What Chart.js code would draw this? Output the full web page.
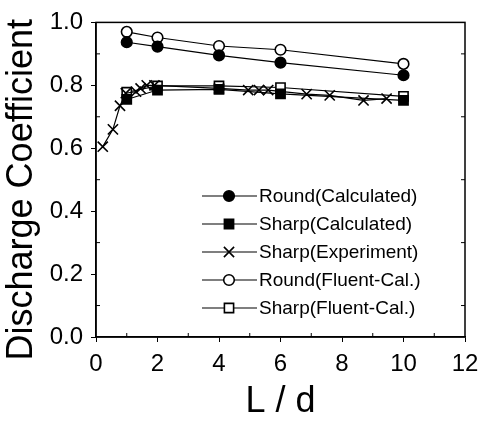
<!DOCTYPE html>
<html>
<head>
<meta charset="utf-8">
<script src="https://cdn.jsdelivr.net/npm/chart.js@4.4.1/dist/chart.umd.min.js"></script>
<style>
  html, body { margin: 0; padding: 0; background: #fff; }
  #wrap { width: 488px; height: 424px; }
</style>
</head>
<body>
<div id="wrap"><canvas id="chart" width="488" height="424"></canvas></div>
<script>
// data
const ldCalc = [1, 2, 4, 6, 10]
const roundCalc = [0.937, 0.923, 0.895, 0.872, 0.832]
const sharpCalc = [0.755, 0.785, 0.787, 0.773, 0.752]
const roundFluent = [0.970, 0.952, 0.925, 0.913, 0.868]
const sharpFluent = [0.778, 0.798, 0.798, 0.793, 0.765]

const ldExp = [0.22, 0.55, 0.78, 0.97, 1.3, 1.45, 1.65, 1.9, 4.0, 4.95, 5.3, 5.6, 6.85, 7.6, 8.7, 9.45]
const sharpExp = [0.605, 0.66, 0.735, 0.775, 0.78, 0.79, 0.80, 0.80, 0.79, 0.785, 0.785, 0.785, 0.772, 0.768, 0.752, 0.758]

const xTicks = [0, 2, 4, 6, 8, 10, 12]
const yTicks = [0.0, 0.2, 0.4, 0.6, 0.8, 1.0]

const seriesLabels = ['Round(Calculated)', 'Sharp(Calculated)', 'Sharp(Experiment)', 'Round(Fluent-Cal.)', 'Sharp(Fluent-Cal.)']

const FONT = "'Liberation Sans', Arial, sans-serif"

function pts(xs, ys) {
    return xs.map((x, i) => ({ x: x, y: ys[i] }))
}

function series(label, data, style, radius, filled) {
    return {
        label: label,
        data: data,
        borderColor: '#000',
        borderWidth: 1.2,
        pointStyle: style,
        pointRadius: radius,
        pointHoverRadius: radius,
        pointBackgroundColor: filled ? '#000' : '#fff',
        pointBorderColor: '#000',
        pointBorderWidth: style === 'crossRot' ? 1.6 : 1.6,
        fill: false,
        tension: 0
    }
}

const datasets = [
    series(seriesLabels[0], pts(ldCalc, roundCalc), 'circle', 5.3, true),
    series(seriesLabels[1], pts(ldCalc, sharpCalc), 'rect', 6.5, true),
    series(seriesLabels[2], pts(ldExp, sharpExp), 'crossRot', 7.2, false),
    series(seriesLabels[3], pts(ldCalc, roundFluent), 'circle', 5.3, false),
    series(seriesLabels[4], pts(ldCalc, sharpFluent), 'rect', 6.5, false)
]

// draw one marker (legend)
function marker(ctx, ds, x, y) {
    const r = ds.pointRadius
    ctx.save()
    ctx.lineWidth = ds.pointBorderWidth
    ctx.strokeStyle = '#000'
    ctx.fillStyle = ds.pointBackgroundColor
    ctx.beginPath()
    if (ds.pointStyle === 'circle') {
        ctx.arc(x, y, r, 0, Math.PI * 2)
        ctx.fill()
        ctx.stroke()
    } else if (ds.pointStyle === 'rect') {
        const s = Math.SQRT1_2 * r
        ctx.rect(x - s, y - s, 2 * s, 2 * s)
        ctx.fill()
        ctx.stroke()
    } else {
        const s = Math.SQRT1_2 * r
        ctx.moveTo(x - s, y - s); ctx.lineTo(x + s, y + s)
        ctx.moveTo(x - s, y + s); ctx.lineTo(x + s, y - s)
        ctx.stroke()
    }
    ctx.restore()
}

// frame, inward minor ticks, legend
const decor = {
    id: 'decor',
    afterDatasetsDraw(chart) {
        const { ctx, chartArea: { top, right, bottom, left } } = chart
        const xs = chart.scales.x, ys = chart.scales.y
        ctx.save()
        ctx.strokeStyle = '#000'
        ctx.lineWidth = 1.5
        ctx.strokeRect(left, top, right - left, bottom - top)
        ctx.lineWidth = 1
        ctx.beginPath()
        for (let v = 1; v < 12; v += 2) {
            const px = xs.getPixelForValue(v)
            ctx.moveTo(px, bottom); ctx.lineTo(px, bottom - 4)
        }
        for (let v = 0.1; v < 1; v += 0.2) {
            const py = ys.getPixelForValue(v)
            ctx.moveTo(left, py); ctx.lineTo(left + 4, py)
            ctx.moveTo(right, py); ctx.lineTo(right - 4, py)
        }
        ctx.stroke()

        // legend
        const lx = 202, ly = 196, step = 28
        chart.data.datasets.forEach((ds, i) => {
            const y = ly + i * step
            ctx.lineWidth = 1.2
            ctx.beginPath()
            ctx.moveTo(lx, y); ctx.lineTo(lx + 55, y)
            ctx.stroke()
            marker(ctx, ds, lx + 27, y)
            ctx.fillStyle = '#000'
            ctx.font = '19px ' + FONT
            ctx.textAlign = 'left'
            ctx.textBaseline = 'middle'
            ctx.fillText(ds.label, lx + 57, y + 1)
        })
        ctx.restore()
    }
}

const config = {
    type: 'line',
    data: { datasets: datasets },
    options: {
        responsive: false,
        animation: false,
        events: [],
        layout: { padding: { left: 0, right: 23, top: 15, bottom: 0 } },
        plugins: {
            legend: { display: false },
            tooltip: { enabled: false }
        },
        scales: {
            x: {
                type: 'linear',
                min: 0,
                max: 12,
                afterBuildTicks: (axis) => { axis.ticks = xTicks.map(v => ({ value: v })) },
                afterFit: (axis) => { axis.height = 87 },
                border: { display: true, color: '#000', width: 1.5 },
                grid: { drawOnChartArea: false, drawTicks: true, tickLength: 5, color: '#000', lineWidth: 1 },
                ticks: { color: '#000', font: { family: FONT, size: 24 }, padding: 8, maxRotation: 0 },
                title: { display: true, text: 'L / d', color: '#000', font: { family: FONT, size: 36 }, padding: { top: 6, bottom: 0 } }
            },
            y: {
                type: 'linear',
                min: 0,
                max: 1,
                afterBuildTicks: (axis) => { axis.ticks = yTicks.map(v => ({ value: v })) },
                afterFit: (axis) => { axis.width = 96 },
                border: { display: true, color: '#000', width: 1.5 },
                grid: { drawOnChartArea: false, drawTicks: true, tickLength: 5, color: '#000', lineWidth: 1 },
                ticks: { color: '#000', font: { family: FONT, size: 24 }, padding: 8, callback: (v) => v.toFixed(1) },
                title: { display: true, text: 'Discharge Coefficient  ', color: '#000', font: { family: FONT, size: 36 }, padding: { top: 0, bottom: 0 } }
            }
        }
    },
    plugins: [decor]
}

const chart = new Chart(document.getElementById('chart'), config)
</script>
</body>
</html>
